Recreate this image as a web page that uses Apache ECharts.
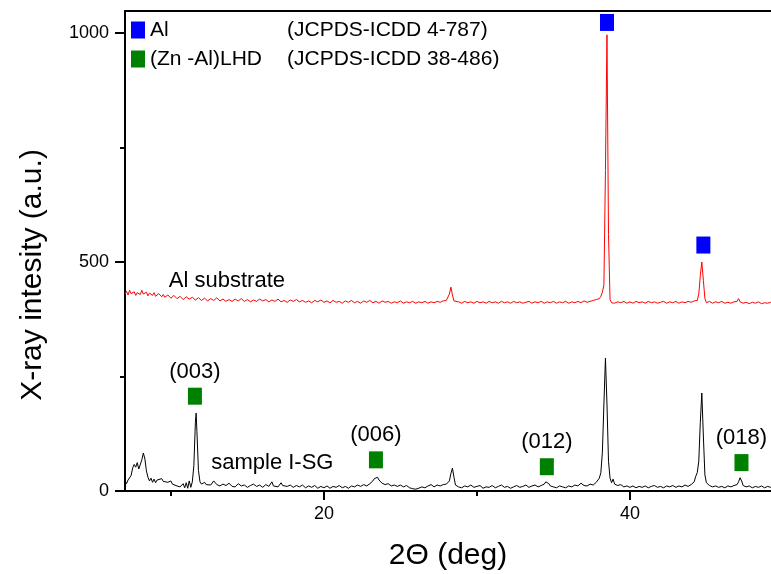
<!DOCTYPE html>
<html>
<head>
<meta charset="utf-8">
<script src="https://cdn.jsdelivr.net/npm/echarts@6/dist/echarts.min.js"></script>
<style>
html,body{margin:0;padding:0;background:#fff;}
#chart{width:771px;height:574px;}
</style>
</head>
<body>
<div id="chart"></div>
<script>
// ---- Data ----
// Sample I-SG pattern (2Θ in deg, intensity a.u.)
const sampleTrace = [
 [7.0,22],[7.1,16],[7.2,24],[7.3,20],[7.4,34],[7.5,50],[7.6,58],[7.7,52],[7.8,62],[7.9,48],
 [8.0,46],[8.1,68],[8.2,83],[8.3,70],[8.4,44],[8.5,30],[8.6,22],[8.7,28],[8.8,19],[8.9,26],
 [9.0,18],[9.1,24],[9.2,20],[9.4,27],[9.5,21],[9.6,25],[9.8,19],[10.0,22],[10.1,15],[10.2,18],
 [10.4,11],[10.5,14],[10.6,9],[10.8,16],[10.9,7],[11.0,18],[11.1,6],[11.2,22],[11.3,8],[11.4,20],
 [11.5,55],[11.6,150],[11.65,170],[11.7,130],[11.8,45],[11.9,20],[12.0,15],[12.2,19],[12.3,14],[12.4,18],
 [12.6,13],[12.7,16],[12.8,22],[13.0,14],[13.1,17],[13.2,11],[13.4,15],[13.6,12],[13.8,17],[14.0,10],
 [14.1,14],[14.2,9],[14.4,16],[14.6,11],[14.8,13],[15.0,8],[15.2,12],[15.3,9],[15.4,15],[15.6,10],
 [15.8,13],[16.0,8],[16.2,14],[16.4,10],[16.6,20],[16.7,11],[16.8,15],[17.0,9],[17.2,18],[17.3,12],
 [17.4,15],[17.6,10],[17.8,13],[18.0,8],[18.2,12],[18.4,9],[18.6,13],[18.8,7],[19.0,11],[19.2,8],
 [19.4,12],[19.6,6],[19.8,10],[20.0,7],[20.2,11],[20.4,6],[20.6,10],[20.8,8],[21.0,12],[21.2,7],
 [21.4,10],[21.6,6],[21.8,11],[22.0,9],[22.2,13],[22.4,10],[22.6,14],[22.8,11],[23.0,16],[23.2,22],
 [23.3,27],[23.4,31],[23.5,30],[23.6,24],[23.8,17],[24.0,14],[24.2,16],[24.4,11],[24.6,13],[24.8,10],
 [25.0,13],[25.2,9],[25.4,12],[25.6,7],[25.8,5],[26.0,4],[26.2,6],[26.4,9],[26.6,7],[26.8,11],
 [27.0,14],[27.2,9],[27.4,13],[27.6,11],[27.8,14],[28.0,15],[28.2,22],[28.3,38],[28.4,50],[28.5,30],
 [28.6,13],[28.8,9],[29.0,7],[29.2,11],[29.4,9],[29.6,13],[29.8,8],[30.0,10],[30.2,12],[30.4,6],
 [30.6,9],[30.8,8],[31.0,12],[31.2,7],[31.4,10],[31.6,13],[31.8,8],[32.0,10],[32.2,6],[32.4,9],
 [32.6,12],[32.8,8],[33.0,10],[33.2,13],[33.4,8],[33.6,11],[33.8,13],[34.0,9],[34.2,12],[34.4,15],
 [34.5,20],[34.6,22],[34.7,16],[34.8,11],[35.0,9],[35.2,7],[35.4,11],[35.6,9],[35.8,7],[36.0,11],
 [36.2,9],[36.4,13],[36.6,11],[36.8,17],[37.0,12],[37.2,11],[37.4,15],[37.6,13],[37.8,19],[38.0,28],
 [38.1,40],[38.2,85],[38.3,190],[38.4,290],[38.5,190],[38.6,65],[38.7,28],[38.8,18],[38.9,26],[39.0,15],
 [39.2,12],[39.4,14],[39.6,9],[39.8,11],[40.0,8],[40.2,11],[40.4,7],[40.6,10],[40.8,8],[41.0,11],
 [41.2,7],[41.4,10],[41.6,12],[41.8,8],[42.0,10],[42.2,7],[42.4,11],[42.6,9],[42.8,12],[43.0,8],
 [43.2,11],[43.4,9],[43.6,13],[43.8,10],[44.0,14],[44.2,20],[44.3,32],[44.4,40],[44.5,65],[44.6,150],
 [44.7,214],[44.8,120],[44.9,35],[45.0,18],[45.2,12],[45.4,9],[45.6,11],[45.8,8],[46.0,10],[46.2,7],
 [46.4,11],[46.6,9],[46.8,12],[47.0,14],[47.1,20],[47.2,29],[47.3,22],[47.4,12],[47.6,9],[47.8,11],
 [48.0,7],[48.2,10],[48.4,8],[48.6,11],[48.8,7],[49.0,10],[49.2,8],[49.4,9],[50.0,8]
];
// Al substrate pattern
const substrateTrace = [
 [7.0,430],[7.1,436],[7.2,428],[7.3,438],[7.4,431],[7.6,435],[7.7,427],[7.8,433],[8.0,429],[8.1,438],
 [8.2,430],[8.4,434],[8.5,426],[8.6,432],[8.8,427],[8.9,433],[9.0,425],[9.2,431],[9.4,424],[9.5,429],
 [9.6,423],[9.8,428],[10.0,421],[10.2,427],[10.4,420],[10.6,425],[10.8,418],[11.0,424],[11.2,419],[11.4,423],
 [11.6,417],[11.8,422],[12.0,416],[12.2,421],[12.4,415],[12.6,420],[12.8,416],[13.0,422],[13.2,415],[13.4,419],
 [13.6,414],[13.8,418],[14.0,414],[14.2,419],[14.4,415],[14.6,420],[14.8,414],[15.0,418],[15.2,413],[15.4,417],
 [15.6,414],[15.8,419],[16.0,415],[16.2,418],[16.4,413],[16.6,417],[16.8,414],[17.0,419],[17.2,413],[17.4,416],
 [17.6,412],[17.8,417],[18.0,414],[18.2,418],[18.4,413],[18.6,416],[18.8,412],[19.0,415],[19.2,411],[19.4,416],
 [19.6,413],[19.8,417],[20.0,412],[20.2,415],[20.4,411],[20.6,416],[20.8,412],[21.0,414],[21.2,410],[21.4,415],
 [21.6,412],[21.8,416],[22.0,411],[22.2,414],[22.4,410],[22.6,415],[22.8,412],[23.0,416],[23.2,411],[23.4,414],
 [23.6,410],[23.8,415],[24.0,412],[24.2,414],[24.4,410],[24.6,413],[24.8,411],[25.0,415],[25.2,410],[25.4,413],
 [25.6,411],[25.8,414],[26.0,410],[26.2,413],[26.4,411],[26.6,414],[26.8,410],[27.0,413],[27.2,411],[27.4,414],
 [27.6,412],[27.8,415],[28.0,416],[28.1,420],[28.2,430],[28.3,445],[28.4,428],[28.5,415],[28.6,411],[28.8,413],
 [29.0,410],[29.2,414],[29.4,411],[29.6,413],[29.8,410],[30.0,414],[30.2,411],[30.4,413],[30.6,410],[30.8,414],
 [31.0,411],[31.2,413],[31.4,410],[31.6,414],[31.8,411],[32.0,413],[32.2,410],[32.4,414],[32.6,411],[32.8,413],
 [33.0,410],[33.2,412],[33.4,414],[33.6,410],[33.8,413],[34.0,411],[34.2,414],[34.4,410],[34.6,413],[34.8,411],
 [35.0,414],[35.2,410],[35.4,413],[35.6,411],[35.8,414],[36.0,410],[36.2,413],[36.4,411],[36.6,414],[36.8,411],
 [37.0,415],[37.2,412],[37.4,414],[37.6,416],[37.8,418],[38.0,420],[38.1,425],[38.2,434],[38.3,450],[38.4,700],
 [38.5,996],[38.6,560],[38.7,418],[38.8,411],[38.9,414],[39.0,410],[39.2,413],[39.4,411],[39.6,414],[39.8,410],
 [40.0,413],[40.2,410],[40.4,414],[40.6,411],[40.8,413],[41.0,410],[41.2,414],[41.4,411],[41.6,413],[41.8,410],
 [42.0,412],[42.2,414],[42.4,410],[42.6,413],[42.8,411],[43.0,414],[43.2,410],[43.4,413],[43.6,411],[43.8,414],
 [44.0,412],[44.2,415],[44.4,416],[44.5,430],[44.6,470],[44.7,500],[44.8,460],[44.9,420],[45.0,411],[45.2,414],
 [45.4,410],[45.6,413],[45.8,411],[46.0,414],[46.2,410],[46.4,412],[46.6,410],[46.8,413],[47.0,414],[47.1,420],
 [47.2,413],[47.4,410],[47.6,412],[47.8,409],[48.0,412],[48.2,410],[48.4,413],[48.6,409],[48.8,411],[49.0,410],
 [49.2,412],[49.4,409],[50.0,410]
];
// Peak markers
const alMarkerTheta = [38.5, 44.8];
const alMarkerValue = [1023, 537];
const lhdMarkerTheta = [11.57, 23.4, 34.57, 47.29];
const lhdMarkerValue = [207, 68, 53, 62];
const lhdMarkerLabels = ['(003)', '(006)', '(012)', '(018)'];
// Trace labels
const traceLabelText = ['Al substrate', 'sample I-SG'];
const traceLabelTheta = [13.66, 16.63];
const traceLabelValue = [458, 61];
// Axis ticks
const xMajorTicks = [20, 40];
const xMinorTicks = [10, 30];
const yMajorTicks = [0, 500, 1000];
const yMinorTicks = [250, 750];
const xRange = [7, 49.22];
const yRange = [0, 1048];
// Legend entries
const legendNames = ['Al', '(Zn -Al)LHD'];
const legendRefs = ['(JCPDS-ICDD 4-787)', '(JCPDS-ICDD 38-486)'];
const legendColors = ['#0000ff', '#008000'];

// ---- Chart ----
const FONT = '"Liberation Sans", Arial, Helvetica, sans-serif';
const chart = echarts.init(document.getElementById('chart'), null, {renderer: 'canvas'});

function pairs(xs, ys) { return xs.map((x, i) => [x, ys[i]]); }

const graphics = [];
legendNames.forEach((name, i) => {
  const cy = 30 + i * 29;
  graphics.push({type: 'rect', shape: {x: 131, y: cy - 8.5, width: 14, height: 17}, style: {fill: legendColors[i]}, z: 10});
  graphics.push({type: 'text', x: 150, y: cy, style: {text: name, font: '21px ' + FONT, fill: '#000', textVerticalAlign: 'middle'}, z: 10});
  graphics.push({type: 'text', x: 287, y: cy, style: {text: legendRefs[i], font: '21px ' + FONT, fill: '#000', textVerticalAlign: 'middle'}, z: 10});
});
graphics.push({type: 'text', x: 33, y: 275, rotation: Math.PI / 2,
  style: {text: 'X-ray intesity (a.u.)', font: '30px ' + FONT, fill: '#000', textAlign: 'center', textVerticalAlign: 'middle'}});

const option = {
  backgroundColor: '#ffffff',
  animation: false,
  textStyle: {fontFamily: FONT},
  grid: {left: 125, top: 11, right: 0, bottom: 83, show: false, outerBoundsMode: 'none'},
  xAxis: [
    {type: 'value', min: xRange[0], max: xRange[1], position: 'bottom',
     axisLine: {show: true, onZero: false, lineStyle: {color: '#000', width: 2}},
     axisTick: {show: true, length: 9, customValues: xMajorTicks, lineStyle: {color: '#000', width: 2}},
     axisLabel: {show: true, customValues: xMajorTicks, margin: 14, color: '#000', fontSize: 18, fontFamily: FONT,
       formatter: v => String(v)},
     splitLine: {show: false},
     name: '2\u0398 (deg)', nameLocation: 'middle', nameGap: 50,
     nameTextStyle: {color: '#000', fontSize: 30, fontFamily: FONT}},
    {type: 'value', min: xRange[0], max: xRange[1], position: 'bottom',
     axisLine: {show: false, onZero: false},
     axisTick: {show: true, length: 5, customValues: xMinorTicks, lineStyle: {color: '#000', width: 2}},
     axisLabel: {show: false}, splitLine: {show: false}},
    {type: 'value', min: xRange[0], max: xRange[1], position: 'top',
     axisLine: {show: true, onZero: false, lineStyle: {color: '#000', width: 2}},
     axisTick: {show: false}, axisLabel: {show: false}, splitLine: {show: false}}
  ],
  yAxis: [
    {type: 'value', min: yRange[0], max: yRange[1], position: 'left',
     axisLine: {show: true, onZero: false, lineStyle: {color: '#000', width: 2}},
     axisTick: {show: true, length: 10, customValues: yMajorTicks, lineStyle: {color: '#000', width: 2}},
     axisLabel: {show: true, customValues: yMajorTicks, margin: 16, color: '#000', fontSize: 18, fontFamily: FONT,
       formatter: v => String(v)},
     splitLine: {show: false}},
    {type: 'value', min: yRange[0], max: yRange[1], position: 'left',
     axisLine: {show: false, onZero: false},
     axisTick: {show: true, length: 5, customValues: yMinorTicks, lineStyle: {color: '#000', width: 2}},
     axisLabel: {show: false}, splitLine: {show: false}}
  ],
  graphic: graphics,
  series: [
    {type: 'line', name: 'Al substrate', data: substrateTrace, xAxisIndex: 0, yAxisIndex: 0,
     showSymbol: false, symbol: 'none', lineStyle: {color: '#ff0000', width: 1}, clip: true, z: 3},
    {type: 'line', name: 'sample I-SG', data: sampleTrace, xAxisIndex: 0, yAxisIndex: 0,
     showSymbol: false, symbol: 'none', lineStyle: {color: '#000000', width: 1}, clip: true, z: 3},
    {type: 'scatter', data: pairs(alMarkerTheta, alMarkerValue), symbol: 'rect', symbolSize: [14, 17],
     itemStyle: {color: '#0000ff', opacity: 1}, z: 5},
    {type: 'scatter', data: pairs(lhdMarkerTheta, lhdMarkerValue).map((p, i) => ({value: p, name: lhdMarkerLabels[i]})),
     symbol: 'rect', symbolSize: [14, 17], itemStyle: {color: '#008000', opacity: 1}, z: 5,
     label: {show: true, position: 'top', distance: 5, formatter: '{b}', color: '#000', opacity: 1, fontSize: 22, fontFamily: FONT}},
    {type: 'scatter', data: pairs(traceLabelTheta, traceLabelValue).map((p, i) => ({value: p, name: traceLabelText[i]})),
     symbolSize: 0, z: 6, itemStyle: {opacity: 1},
     label: {show: true, position: 'inside', formatter: '{b}', color: '#000', opacity: 1, fontSize: 22, fontFamily: FONT}}
  ]
};
chart.setOption(option);
</script>
</body>
</html>
